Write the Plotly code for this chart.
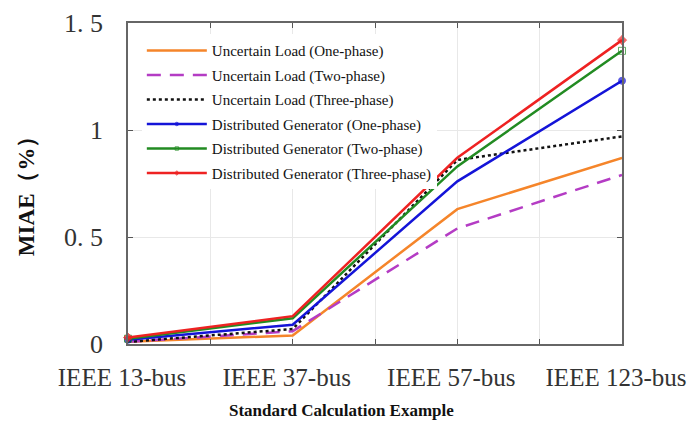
import plotly.graph_objects as go

categories = ["IEEE 13-bus", "IEEE 37-bus", "IEEE 57-bus", "IEEE 123-bus"]
x_pos = [0, 1, 2, 3]

ul_one = [0.01, 0.04, 0.63, 0.87]
ul_two = [0.01, 0.06, 0.54, 0.79]
ul_three = [0.01, 0.07, 0.86, 0.97]
dg_one = [0.02, 0.09, 0.76, 1.23]
dg_two = [0.025, 0.12, 0.83, 1.37]
dg_three = [0.03, 0.13, 0.87, 1.42]

names = [
    "Uncertain Load (One-phase)",
    "Uncertain Load (Two-phase)",
    "Uncertain Load (Three-phase)",
    "Distributed Generator (One-phase)",
    "Distributed Generator (Two-phase)",
    "Distributed Generator (Three-phase)",
]

y_ticks = [0, 0.5, 1, 1.5]
y_ticktext = ["0", "0. 5", "1", "1. 5"]

serif = "Liberation Serif, Times New Roman, serif"

fig = go.Figure()

series = [
    (ul_one, "#F5852A", "solid", None),
    (ul_two, "#B43CC4", "14px,9px", None),
    (ul_three, "#111111", "3px,3px", None),
    (dg_one, "#1414D8", "solid", "circle"),
    (dg_two, "#228B22", "solid", "square-open"),
    (dg_three, "#EE2222", "solid", "diamond"),
]

for i, ((vals, color, dash, sym), name) in enumerate(zip(series, names)):
    kw = dict(mode="lines")
    if sym:
        kw = dict(mode="lines+markers",
                  marker=dict(symbol=sym, size=[7, 0, 0, 7], color=color,
                              line=dict(color=color, width=1)))
    fig.add_trace(go.Scatter(x=x_pos, y=vals, name=name, legendgroup=f"g{i}",
                             line=dict(color=color, width=2.5, dash=dash),
                             cliponaxis=False, **kw))

# page body has an 8px margin, so the figure is shifted by 8px
fig.update_layout(
    width=687, height=415,
    margin=dict(l=120, r=73, t=15, b=79, autoexpand=False),
    paper_bgcolor="white", plot_bgcolor="white",
    font=dict(family=serif, color="#222"),
    showlegend=True,
    legend=dict(x=0.028, y=0.965, xanchor="left", yanchor="top",
                bgcolor="white", borderwidth=0,
                font=dict(family=serif, size=15, color="#111"),
                tracegroupgap=2, itemwidth=60),
    annotations=[
        dict(text="<b>Standard Calculation Example</b>", xref="paper", yref="paper",
             x=0.433, y=-0.206, xanchor="center", yanchor="middle", showarrow=False,
             font=dict(family=serif, size=17, color="#111")),
        dict(text="<b>MIAE（%）</b>", xref="paper", yref="paper",
             x=-0.204, y=0.48, xanchor="center", yanchor="middle", showarrow=False,
             textangle=-90, font=dict(family=serif, size=23, color="#111")),
    ],
)

fig.update_xaxes(
    range=[0, 3], tickvals=x_pos, ticktext=categories, automargin=False,
    tickfont=dict(family=serif, size=25, color="#333"),
    ticks="inside", ticklen=5, tickcolor="#555", ticklabelstandoff=10,
    ticklabelshift=-6,
    showline=True, linecolor="#666", linewidth=1.5, mirror="ticks",
    showgrid=True, gridcolor="#e8e8e8", gridwidth=1,
    minor=dict(dtick=0.5, tick0=0, ticks="inside", ticklen=5, tickcolor="#555",
               showgrid=True, gridcolor="#e8e8e8"),
    zeroline=False,
)

fig.update_yaxes(
    range=[0, 1.5], tickvals=y_ticks, ticktext=y_ticktext, automargin=False,
    tickfont=dict(family=serif, size=26, color="#333"),
    ticks="inside", ticklen=5, tickcolor="#555", ticklabelstandoff=18,
    showline=True, linecolor="#666", linewidth=1.5, mirror="ticks",
    showgrid=True, gridcolor="#e8e8e8", gridwidth=1,
    zeroline=False,
)

fig.write_html("out.html")
